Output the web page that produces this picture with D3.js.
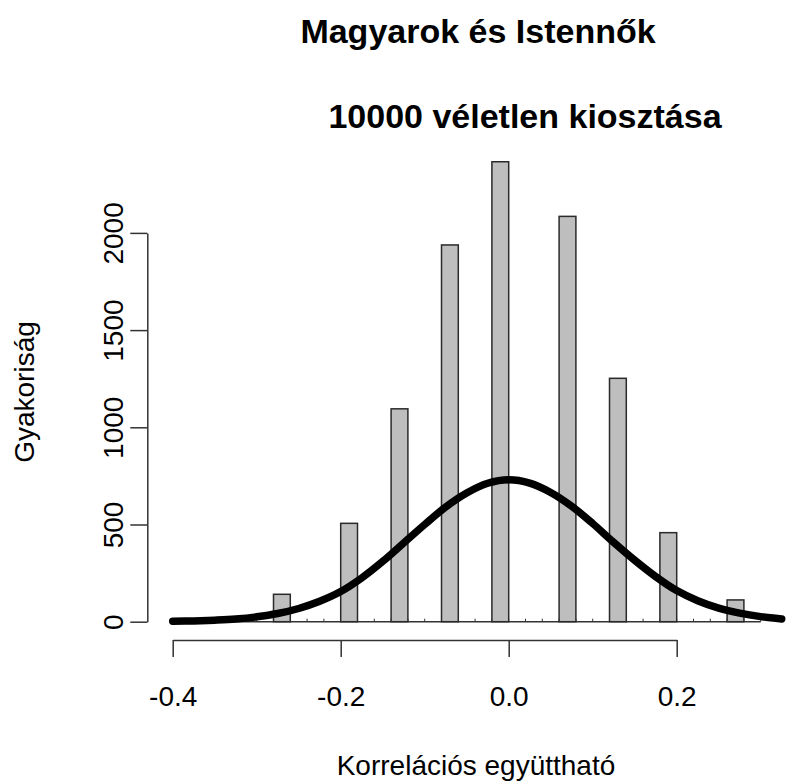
<!DOCTYPE html>
<html>
<head>
<meta charset="utf-8">
<script src="https://cdn.jsdelivr.net/npm/d3@7"></script>
<style>
  body { margin: 0; background: #fff; }
  text { font-family: "Liberation Sans", Arial, Helvetica, sans-serif; fill: #000; }
</style>
</head>
<body>
<svg></svg>
<script>

// histogram: lower edge of each non-empty bin (bin width 0.02) and its count
var binStarts = [-0.28, -0.20, -0.14, -0.08, -0.02, 0.06, 0.12, 0.18, 0.26];
var counts    = [141, 506, 1095, 1938, 2366, 2085, 1252, 458, 112];
var binWidth  = 0.02;

// all break points of the histogram (empty bins show only on the baseline)
var breaks = [-0.38, -0.36, -0.34, -0.32, -0.30, -0.28, -0.26, -0.24, -0.22, -0.20,
              -0.18, -0.16, -0.14, -0.12, -0.10, -0.08, -0.06, -0.04, -0.02, 0.00,
               0.02,  0.04,  0.06,  0.08,  0.10,  0.12,  0.14,  0.16,  0.18, 0.20,
               0.22,  0.24,  0.26,  0.28,  0.30];

// overlaid density curve
var curveX = [-0.400, -0.375, -0.350, -0.325, -0.300, -0.275, -0.250, -0.225, -0.200, -0.175,
              -0.150, -0.125, -0.100, -0.075, -0.050, -0.025,  0.000,  0.025,  0.050,  0.075,
               0.100,  0.125,  0.150,  0.175,  0.200,  0.225,  0.250,  0.275,  0.300,  0.325];
var curveY = [2, 4, 8, 14, 25, 42, 68, 105, 155, 225,
              310, 405, 500, 590, 662, 712, 730, 713, 665, 594,
              505, 408, 316, 232, 160, 108, 70, 44, 26, 14];

var xTicks = [-0.4, -0.2, 0.0, 0.2];
var yTicks = [0, 500, 1000, 1500, 2000];

var width = 786;
var height = 782;
var axisColor = "#333";

var svg = d3.select('svg')
            .attr('width', width)
            .attr('height', height);

var xScale = d3.scaleLinear()
               .domain([-0.4, 0.2])
               .range([172.7, 676.7]);
var yScale = d3.scaleLinear()
               .domain([0, 2000])
               .range([621.7, 232.9]);

// baseline of the histogram with the small marks of empty bins
svg.append("line")
   .attr("x1", xScale(breaks[0]))
   .attr("x2", xScale(breaks[breaks.length - 1]))
   .attr("y1", yScale(0))
   .attr("y2", yScale(0))
   .attr("stroke", axisColor)
   .attr("stroke-width", 1.5);

svg.selectAll("line.brk")
   .data(breaks)
   .enter()
     .append("line")
     .attr("class", "brk")
     .attr("x1", d => xScale(d))
     .attr("x2", d => xScale(d))
     .attr("y1", yScale(0))
     .attr("y2", yScale(0) - 3)
     .attr("stroke", axisColor)
     .attr("stroke-width", 1);

// bars
svg.selectAll("rect.bar")
   .data(binStarts)
   .enter()
     .append("rect")
     .attr("class", "bar")
     .attr("x", d => xScale(d))
     .attr("width", d => xScale(d + binWidth) - xScale(d))
     .attr("y", (d, i) => yScale(counts[i]))
     .attr("height", (d, i) => yScale(0) - yScale(counts[i]))
     .attr("fill", "#bebebe")
     .attr("stroke", "#2a2a2a")
     .attr("stroke-width", 1.5);

// density curve
var line = d3.line()
             .x(d => xScale(d[0]))
             .y(d => yScale(d[1]))
             .curve(d3.curveCatmullRom);

svg.append("path")
   .datum(curveX.map((v, i) => [v, curveY[i]]))
   .attr("d", line)
   .attr("fill", "none")
   .attr("stroke", "#000")
   .attr("stroke-width", 7.5)
   .attr("stroke-linecap", "round")
   .attr("stroke-linejoin", "round");

// x axis
var xAxis = svg.append("g")
   .attr("transform", "translate(0,640)")
   .call(d3.axisBottom(xScale)
           .tickValues(xTicks)
           .tickFormat(d => d.toFixed(1))
           .tickSize(17)
           .tickSizeOuter(0)
           .tickPadding(29));
xAxis.select(".domain").attr("stroke", axisColor).attr("stroke-width", 1.5);
xAxis.selectAll(".tick line").attr("stroke", axisColor).attr("stroke-width", 1.5);
xAxis.selectAll("text")
     .style("font-family", '"Liberation Sans", Arial, sans-serif')
     .style("font-size", "28px")
     .attr("fill", "#000");

// y axis, labels turned like in R
var yAxis = svg.append("g")
   .attr("transform", "translate(147.3,0)")
   .call(d3.axisLeft(yScale)
           .tickValues(yTicks)
           .tickFormat(d => String(d))
           .tickSize(17)
           .tickSizeOuter(0));
yAxis.select(".domain").attr("stroke", axisColor).attr("stroke-width", 1.5);
yAxis.selectAll(".tick line").attr("stroke", axisColor).attr("stroke-width", 1.5);
yAxis.selectAll("text")
     .attr("x", 0)
     .attr("y", -24.5)
     .attr("dy", 0)
     .attr("transform", "rotate(-90)")
     .style("text-anchor", "middle")
     .style("font-family", '"Liberation Sans", Arial, sans-serif')
     .style("font-size", "28px")
     .attr("fill", "#000");

// titles
svg.append("text")
   .attr("x", 478)
   .attr("y", 43)
   .style("text-anchor", "middle")
   .style("font-weight", "bold")
   .style("font-size", "34px")
   .text("Magyarok és Istennők");

svg.append("text")
   .attr("x", 525)
   .attr("y", 128)
   .style("text-anchor", "middle")
   .style("font-weight", "bold")
   .style("font-size", "34px")
   .text("10000 véletlen kiosztása");

svg.append("text")
   .attr("x", 476)
   .attr("y", 775)
   .style("text-anchor", "middle")
   .style("font-size", "28px")
   .text("Korrelációs együttható");

svg.append("text")
   .attr("transform", "rotate(-90)")
   .attr("x", -392)
   .attr("y", 34)
   .style("text-anchor", "middle")
   .style("font-size", "28px")
   .text("Gyakoriság");

</script>
</body>
</html>
